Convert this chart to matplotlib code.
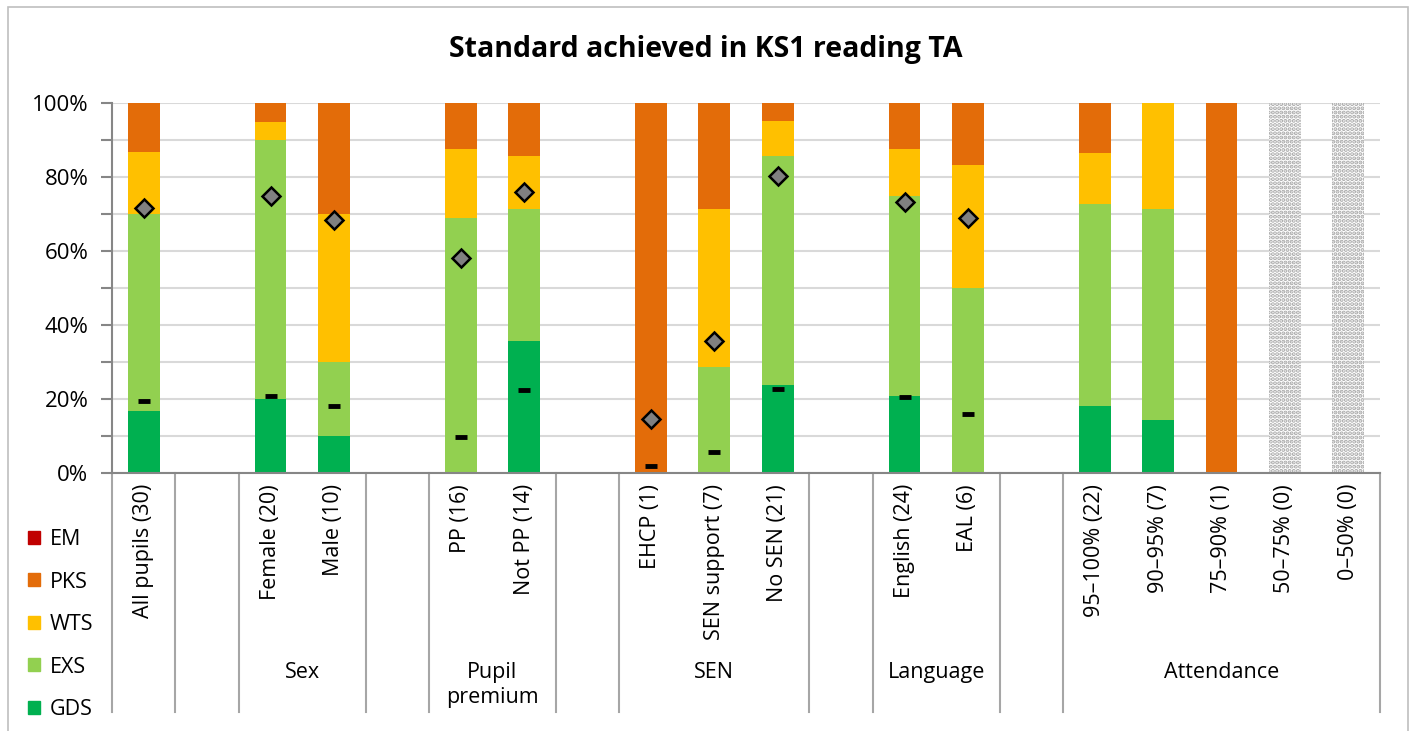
import numpy as np
import matplotlib

matplotlib.use("Agg")
import matplotlib.pyplot as plt
from matplotlib.patches import Patch, Rectangle
from matplotlib.ticker import MultipleLocator, PercentFormatter

plt.rcParams["font.family"] = ["Open Sans", "DejaVu Sans"]
plt.rcParams["hatch.linewidth"] = 2.0

# --- data (percent of pupils) ---------------------------------------------
CATEGORIES = [
    "All pupils (30)",
    "Female (20)", "Male (10)",
    "PP (16)", "Not PP (14)",
    "EHCP (1)", "SEN support (7)", "No SEN (21)",
    "English (24)", "EAL (6)",
    "95–100% (22)", "90–95% (7)", "75–90% (1)", "50–75% (0)", "0–50% (0)",
]
GROUP_NAMES = ["", "Sex", "Pupil\npremium", "SEN", "Language", "Attendance"]
GROUP_SIZES = [1, 2, 2, 3, 2, 5]

GDS = [16.7, 20.0, 10.0, 0.0, 35.7, 0.0, 0.0, 23.8, 20.8, 0.0, 18.2, 14.3, 0.0, 0.0, 0.0]
EXS = [53.3, 70.0, 20.0, 68.8, 35.7, 0.0, 28.6, 61.9, 54.2, 50.0, 54.5, 57.1, 0.0, 0.0, 0.0]
WTS = [16.7, 5.0, 40.0, 18.7, 14.3, 0.0, 42.8, 9.5, 12.5, 33.3, 13.7, 28.6, 0.0, 0.0, 0.0]
PKS = [13.3, 5.0, 30.0, 12.5, 14.3, 100.0, 28.6, 4.8, 12.5, 16.7, 13.6, 0.0, 100.0, 0.0, 0.0]
EM = [0.0] * 15
NO_PUPILS = [False] * 13 + [True, True]

# diamond and dash markers (comparison figures)
DIAMOND = [71.6, 75.0, 68.5, 58.1, 76.0, 14.5, 35.8, 80.4, 73.2, 68.8,
           np.nan, np.nan, np.nan, np.nan, np.nan]
DASH = [19.4, 20.8, 18.1, 9.7, 22.4, 1.9, 5.6, 22.7, 20.5, 16.0,
        np.nan, np.nan, np.nan, np.nan, np.nan]

SERIES = [("GDS", GDS, "#00B050"), ("EXS", EXS, "#92D050"), ("WTS", WTS, "#FFC000"),
          ("PKS", PKS, "#E36C09"), ("EM", EM, "#C00000")]

# slot positions: one blank slot after every group
xpos, bounds, centers = [], [], []
p = 0
for n in GROUP_SIZES:
    xs = list(range(p, p + n))
    xpos += xs
    bounds += [p - 0.5, p + n - 0.5]
    centers.append((xs[0] + xs[-1]) / 2)
    p += n + 1
xpos = np.array(xpos, dtype=float)
nslots = p - 1

fig = plt.figure(figsize=(14.12, 7.31), dpi=100)
ax = fig.add_axes([112 / 1412, 258 / 731, 1268 / 1412, 370 / 731])

bottom = np.zeros(len(CATEGORIES))
for name, vals, col in SERIES:
    v = np.array(vals)
    ax.bar(xpos, v, 0.5, bottom=bottom, color=col, linewidth=0, zorder=2)
    bottom += v

nd = np.array(NO_PUPILS)
ax.bar(xpos[nd], 100, 0.5, facecolor="white", edgecolor="#A6A6A6", hatch="....",
       linewidth=0, zorder=2)

ax.plot(xpos, DIAMOND, "D", ms=9, mfc="#808080", mec="black", mew=1.8, zorder=4)
ax.plot(xpos, DASH, "_", ms=9, mec="black", mew=3.5, zorder=4)

ax.set_xlim(-0.5, nslots - 0.5)
ax.set_ylim(0, 100)
ax.yaxis.set_major_locator(MultipleLocator(20))
ax.yaxis.set_minor_locator(MultipleLocator(10))
ax.yaxis.set_major_formatter(PercentFormatter(100, decimals=0))
ax.tick_params(axis="y", which="both", length=8, width=1.5, color="#868686",
               labelsize=16, pad=9)
ax.set_xticks([])
ax.grid(axis="y", which="both", color="#D9D9D9", lw=1.5, zorder=0)
ax.set_axisbelow(True)
for s in ["top", "right"]:
    ax.spines[s].set_visible(False)
for s in ["left", "bottom"]:
    ax.spines[s].set_color("#868686")
    ax.spines[s].set_linewidth(1.5)

tr = ax.get_xaxis_transform()
for b in bounds:
    ax.plot([b, b], [0, -0.645], transform=tr, clip_on=False, color="#A6A6A6", lw=1.5)
for x, lab in zip(xpos, CATEGORIES):
    ax.text(x, -0.03, lab, transform=tr, rotation=90, ha="center", va="top",
            fontsize=15.5)
for c, g in zip(centers, GROUP_NAMES):
    ax.text(c, -0.51, g, transform=tr, ha="center", va="top", fontsize=15.5,
            linespacing=1.3)

fig.text(0.5, 1 - 50 / 731, "Standard achieved in KS1 reading TA", ha="center",
         va="center", fontsize=20.5, fontweight="bold")

handles = [Patch(color=c, label=n) for n, _, c in SERIES[::-1]]
fig.legend(handles=handles, loc="upper left", bbox_to_anchor=(28 / 1412, 1 - 529 / 731),
           frameon=False, fontsize=15.5, handlelength=0.55, handleheight=0.55,
           handletextpad=0.45, labelspacing=1.0, borderpad=0, borderaxespad=0)

fig.patches.append(Rectangle((8 / 1412, -0.01), 1400 / 1412, 1.01 - 7 / 731,
                             transform=fig.transFigure, fill=False,
                             edgecolor="#BFBFBF", lw=1.2))

fig.savefig("out.png", dpi=100)
